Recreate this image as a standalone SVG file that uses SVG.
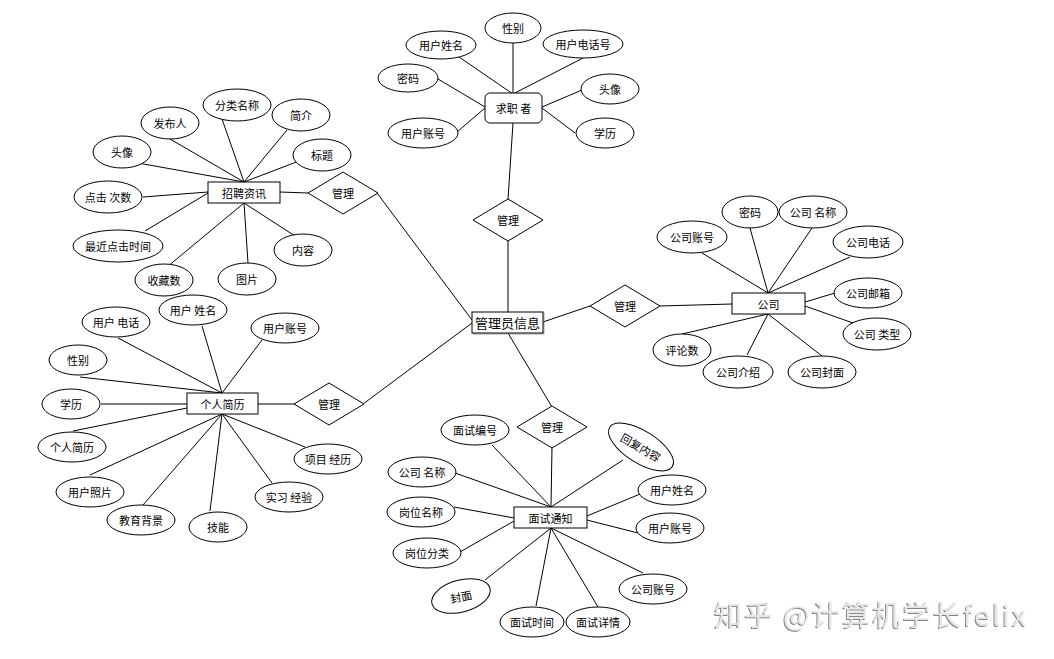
<svg xmlns="http://www.w3.org/2000/svg" width="1054" height="659" viewBox="0 0 1054 659">
<style>
.e{fill:#fff;stroke:#000;stroke-width:1}
.r{fill:#fff;stroke:#000;stroke-width:1}
.d{fill:#fff;stroke:#000;stroke-width:1}
.c line{stroke:#000;stroke-width:1}
text{font-family:"Noto Sans CJK SC","Noto Sans CJK JP",sans-serif;font-size:11px;text-anchor:middle;dominant-baseline:central;fill:#000}
.big{font-size:13px}
.wm{font-size:28px;text-anchor:start;dominant-baseline:alphabetic;fill:#e6e6e6}
</style>
<defs>
<filter id="emb" x="-5%" y="-20%" width="110%" height="140%">
<feDropShadow dx="-1" dy="1" stdDeviation="0.4" flood-color="#777" flood-opacity="0.9"/>
</filter>
<filter id="sh" x="-10%" y="-20%" width="130%" height="160%">
<feDropShadow dx="1" dy="1" stdDeviation="0.5" flood-color="#666" flood-opacity="0.6"/>
</filter>
</defs>
<rect width="1054" height="659" fill="#fff"/>
<g id="connectors" class="c">
<line x1="459" y1="57" x2="513" y2="94"/>
<line x1="513" y1="43" x2="513" y2="94"/>
<line x1="583" y1="58" x2="513" y2="94"/>
<line x1="438" y1="79" x2="485" y2="107"/>
<line x1="457" y1="132" x2="485" y2="108"/>
<line x1="582" y1="90" x2="542" y2="107"/>
<line x1="575" y1="133" x2="542" y2="108"/>
<line x1="513" y1="123" x2="508" y2="199"/>
<line x1="508" y1="241" x2="508" y2="312"/>
<line x1="170" y1="139" x2="244" y2="182"/>
<line x1="222" y1="119" x2="244" y2="182"/>
<line x1="287" y1="130" x2="244" y2="182"/>
<line x1="138" y1="163" x2="244" y2="182"/>
<line x1="299" y1="161" x2="244" y2="182"/>
<line x1="143" y1="197" x2="208" y2="192"/>
<line x1="145" y1="231" x2="208" y2="193"/>
<line x1="167" y1="267" x2="244" y2="203"/>
<line x1="248" y1="263" x2="244" y2="203"/>
<line x1="295" y1="236" x2="244" y2="203"/>
<line x1="280" y1="192" x2="308" y2="193"/>
<line x1="377" y1="193" x2="472" y2="320"/>
<line x1="202" y1="326" x2="222" y2="393"/>
<line x1="118" y1="338" x2="222" y2="393"/>
<line x1="262" y1="340" x2="222" y2="393"/>
<line x1="80" y1="377" x2="222" y2="393"/>
<line x1="101" y1="404" x2="187" y2="404"/>
<line x1="73" y1="431" x2="187" y2="408"/>
<line x1="90" y1="475" x2="222" y2="414"/>
<line x1="143" y1="505" x2="222" y2="414"/>
<line x1="210" y1="511" x2="222" y2="414"/>
<line x1="272" y1="483" x2="222" y2="414"/>
<line x1="305" y1="447" x2="222" y2="414"/>
<line x1="258" y1="404" x2="295" y2="404"/>
<line x1="363" y1="404" x2="472" y2="323"/>
<line x1="543" y1="322" x2="590" y2="306"/>
<line x1="659" y1="306" x2="732" y2="304"/>
<line x1="702" y1="253" x2="768" y2="293"/>
<line x1="750" y1="228" x2="768" y2="293"/>
<line x1="812" y1="228" x2="768" y2="293"/>
<line x1="850" y1="257" x2="768" y2="293"/>
<line x1="835" y1="293" x2="805" y2="302"/>
<line x1="853" y1="323" x2="805" y2="306"/>
<line x1="682" y1="334" x2="768" y2="314"/>
<line x1="747" y1="355" x2="768" y2="314"/>
<line x1="822" y1="356" x2="768" y2="314"/>
<line x1="508" y1="333" x2="552" y2="407"/>
<line x1="552" y1="447" x2="551" y2="507"/>
<line x1="492" y1="445" x2="551" y2="507"/>
<line x1="455" y1="473" x2="551" y2="507"/>
<line x1="623" y1="460" x2="551" y2="507"/>
<line x1="645" y1="492" x2="587" y2="516"/>
<line x1="638" y1="533" x2="587" y2="520"/>
<line x1="454" y1="507" x2="514" y2="518"/>
<line x1="460" y1="552" x2="514" y2="521"/>
<line x1="485" y1="580" x2="551" y2="528"/>
<line x1="536" y1="606" x2="551" y2="528"/>
<line x1="598" y1="607" x2="551" y2="528"/>
<line x1="643" y1="573" x2="551" y2="528"/>
</g>

<!-- 求职者 -->
<g id="qiuzhizhe"><rect class="r" x="485" y="93" width="57" height="30" rx="5"/><text x="513.5" y="108">求职 者</text></g>
<g id="qz-xingbie"><ellipse class="e" cx="513" cy="28" rx="28" ry="15"/><text x="513" y="28">性别</text></g>
<g id="qz-xingming"><ellipse class="e" cx="441" cy="45" rx="35" ry="14"/><text x="441" y="45">用户姓名</text></g>
<g id="qz-dianhua"><ellipse class="e" cx="583" cy="44" rx="40" ry="14"/><text x="583" y="44">用户电话号</text></g>
<g id="qz-mima"><ellipse class="e" cx="408" cy="78" rx="30" ry="14"/><text x="408" y="78">密码</text></g>
<g id="qz-touxiang"><ellipse class="e" cx="610" cy="89" rx="29" ry="15"/><text x="610" y="89">头像</text></g>
<g id="qz-zhanghao"><ellipse class="e" cx="423" cy="133" rx="35" ry="15"/><text x="423" y="133">用户账号</text></g>
<g id="qz-xueli"><ellipse class="e" cx="605" cy="133" rx="29" ry="15"/><text x="605" y="133">学历</text></g>
<g id="gl-qz"><polygon class="d" points="508,199 543,220 508,241 473,220"/><text x="508" y="220">管理</text></g>

<!-- 管理员信息 -->
<g id="guanliyuan"><rect class="r" x="472" y="312" width="71" height="21" filter="url(#sh)"/><text class="big" x="507.5" y="322.5">管理员信息</text></g>

<!-- 招聘资讯 -->
<g id="zhaopin"><rect class="r" x="208" y="182" width="72" height="21"/><text x="244" y="192.5">招聘资讯</text></g>
<g id="zp-fenlei"><ellipse class="e" cx="237" cy="105" rx="34" ry="16"/><text x="237" y="105">分类名称</text></g>
<g id="zp-faburen"><ellipse class="e" cx="170" cy="123" rx="29" ry="16"/><text x="170" y="123">发布人</text></g>
<g id="zp-jianjie"><ellipse class="e" cx="301" cy="115" rx="29" ry="16"/><text x="301" y="115">简介</text></g>
<g id="zp-touxiang"><ellipse class="e" cx="122" cy="152" rx="29" ry="16"/><text x="122" y="152">头像</text></g>
<g id="zp-biaoti"><ellipse class="e" cx="322" cy="155" rx="29" ry="16"/><text x="322" y="155">标题</text></g>
<g id="zp-dianji"><ellipse class="e" cx="108" cy="197" rx="34" ry="16"/><text x="108" y="197">点击 次数</text></g>
<g id="zp-zuijin"><ellipse class="e" cx="118" cy="246" rx="45" ry="16"/><text x="118" y="246">最近点击时间</text></g>
<g id="zp-neirong"><ellipse class="e" cx="303" cy="250" rx="29" ry="16"/><text x="303" y="250">内容</text></g>
<g id="zp-shoucang"><ellipse class="e" cx="164" cy="280" rx="29" ry="16"/><text x="164" y="280">收藏数</text></g>
<g id="zp-tupian"><ellipse class="e" cx="247" cy="279" rx="29" ry="16"/><text x="247" y="279">图片</text></g>
<g id="gl-zp"><polygon class="d" points="343,172 378,193 343,214 308,193"/><text x="343" y="193">管理</text></g>

<!-- 个人简历 -->
<g id="jianli"><rect class="r" x="187" y="393" width="71" height="21"/><text x="222.5" y="403.5">个人简历</text></g>
<g id="jl-xingming"><ellipse class="e" cx="193" cy="310" rx="34" ry="15"/><text x="193" y="310">用户 姓名</text></g>
<g id="jl-dianhua"><ellipse class="e" cx="116" cy="322" rx="34" ry="15"/><text x="116" y="322">用户 电话</text></g>
<g id="jl-zhanghao"><ellipse class="e" cx="285" cy="328" rx="34" ry="15"/><text x="285" y="328">用户账号</text></g>
<g id="jl-xingbie"><ellipse class="e" cx="78" cy="360" rx="29" ry="15"/><text x="78" y="360">性别</text></g>
<g id="jl-xueli"><ellipse class="e" cx="71" cy="404" rx="29" ry="15"/><text x="71" y="404">学历</text></g>
<g id="jl-gerenjianli"><ellipse class="e" cx="72" cy="447" rx="34" ry="15"/><text x="72" y="447">个人简历</text></g>
<g id="jl-zhaopian"><ellipse class="e" cx="90" cy="492" rx="34" ry="15"/><text x="90" y="492">用户照片</text></g>
<g id="jl-xiangmu"><ellipse class="e" cx="328" cy="459" rx="34" ry="15"/><text x="328" y="459">项目 经历</text></g>
<g id="jl-shixi"><ellipse class="e" cx="289" cy="497" rx="34" ry="15"/><text x="289" y="497">实习 经验</text></g>
<g id="jl-jiaoyu"><ellipse class="e" cx="141" cy="520" rx="34" ry="15"/><text x="141" y="520">教育背景</text></g>
<g id="jl-jineng"><ellipse class="e" cx="218" cy="527" rx="29" ry="15"/><text x="218" y="527">技能</text></g>
<g id="gl-jl"><polygon class="d" points="329,383 364,404 329,425 294,404"/><text x="329" y="404">管理</text></g>

<!-- 公司 -->
<g id="gongsi"><rect class="r" x="732" y="293" width="73" height="21"/><text x="768.5" y="303.5">公司</text></g>
<g id="gs-mima"><ellipse class="e" cx="750" cy="212" rx="28" ry="16"/><text x="750" y="212">密码</text></g>
<g id="gs-mingcheng"><ellipse class="e" cx="813" cy="212" rx="34" ry="16"/><text x="813" y="212">公司 名称</text></g>
<g id="gs-zhanghao"><ellipse class="e" cx="692" cy="237" rx="35" ry="16"/><text x="692" y="237">公司账号</text></g>
<g id="gs-dianhua"><ellipse class="e" cx="868" cy="242" rx="35" ry="16"/><text x="868" y="242">公司电话</text></g>
<g id="gs-youxiang"><ellipse class="e" cx="868" cy="293" rx="34" ry="15"/><text x="868" y="293">公司邮箱</text></g>
<g id="gs-leixing"><ellipse class="e" cx="877" cy="334" rx="34" ry="16"/><text x="877" y="334">公司 类型</text></g>
<g id="gs-pinglun"><ellipse class="e" cx="682" cy="350" rx="29" ry="16"/><text x="682" y="350">评论数</text></g>
<g id="gs-jieshao"><ellipse class="e" cx="738" cy="372" rx="35" ry="16"/><text x="738" y="372">公司介绍</text></g>
<g id="gs-fengmian"><ellipse class="e" cx="822" cy="372" rx="34" ry="16"/><text x="822" y="372">公司封面</text></g>
<g id="gl-gs"><polygon class="d" points="625,285 660,306 625,327 590,306"/><text x="625" y="306">管理</text></g>

<!-- 面试通知 -->
<g id="mianshi"><rect class="r" x="514" y="507" width="73" height="21"/><text x="550.5" y="517.5">面试通知</text></g>
<g id="ms-bianhao"><ellipse class="e" cx="475" cy="430" rx="34" ry="15"/><text x="475" y="430">面试编号</text></g>
<g id="ms-huifu"><ellipse class="e" cx="641" cy="447" rx="37" ry="16" transform="rotate(32 641 447)"/><text x="641" y="447" transform="rotate(30 641 447)" fill="#333">回复内容</text></g>
<g id="ms-gsmingcheng"><ellipse class="e" cx="422" cy="472" rx="34" ry="15"/><text x="422" y="472">公司 名称</text></g>
<g id="ms-gangwei"><ellipse class="e" cx="421" cy="512" rx="34" ry="15"/><text x="421" y="512">岗位名称</text></g>
<g id="ms-fenlei"><ellipse class="e" cx="427" cy="553" rx="34" ry="15"/><text x="427" y="553">岗位分类</text></g>
<g id="ms-fengmian"><ellipse class="e" cx="461" cy="596" rx="30" ry="16" transform="rotate(-15 461 596)"/><text x="461" y="596" transform="rotate(-12 461 596)" fill="#333">封面</text></g>
<g id="ms-xingming"><ellipse class="e" cx="672" cy="490" rx="34" ry="15"/><text x="672" y="490">用户姓名</text></g>
<g id="ms-zhanghao"><ellipse class="e" cx="670" cy="528" rx="34" ry="15"/><text x="670" y="528">用户账号</text></g>
<g id="ms-gszhanghao"><ellipse class="e" cx="653" cy="589" rx="34" ry="15"/><text x="653" y="589">公司账号</text></g>
<g id="ms-shijian"><ellipse class="e" cx="532" cy="622" rx="32" ry="15"/><text x="532" y="622">面试时间</text></g>
<g id="ms-xiangqing"><ellipse class="e" cx="598" cy="622" rx="32" ry="15"/><text x="598" y="622">面试详情</text></g>
<g id="gl-ms"><polygon class="d" points="552,406 587,427 552,448 517,427"/><text x="552" y="427">管理</text></g>

<text class="wm" x="714" y="626" textLength="312" lengthAdjust="spacing" filter="url(#emb)">知乎 @计算机学长felix</text>
</svg>
